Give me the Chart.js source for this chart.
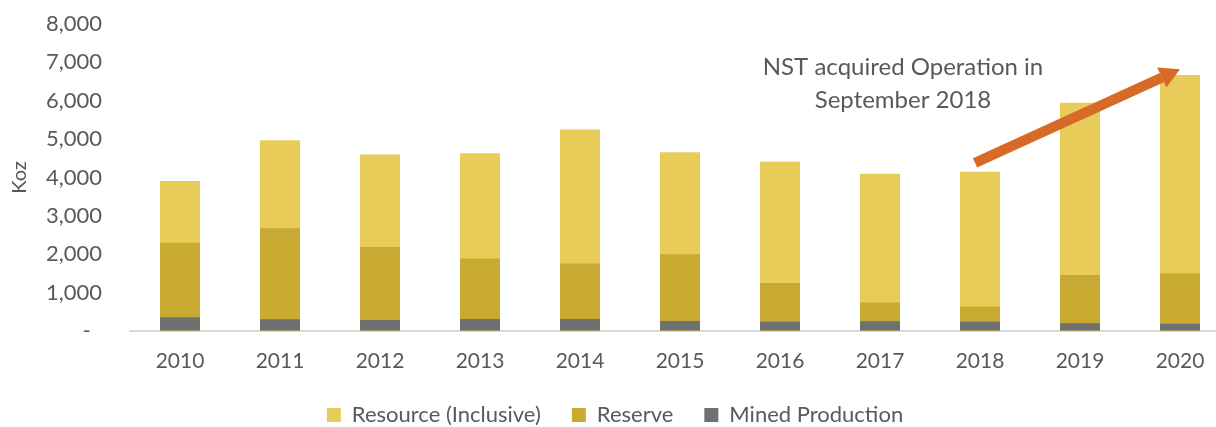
<!DOCTYPE html>
<html>
<head>
<meta charset="utf-8">
<script src="https://cdn.jsdelivr.net/npm/chart.js@4.4.1/dist/chart.umd.min.js"></script>
<style>
  html, body { margin: 0; padding: 0; background: #fff; overflow: hidden; }
  #wrap { width: 1230px; height: 427px; position: relative; }
</style>
</head>
<body>
<div id="wrap"><canvas id="chart"></canvas></div>
<script>
const years = ["2010", "2011", "2012", "2013", "2014", "2015", "2016", "2017", "2018", "2019", "2020"];
const resource = [3910, 4970, 4600, 4630, 5250, 4660, 4410, 4100, 4150, 5950, 6670];
const reserve = [2300, 2680, 2190, 1890, 1760, 2000, 1250, 740, 640, 1460, 1500];
const mined = [360, 305, 286, 312, 312, 260, 243, 255, 240, 200, 190];

// annotation, in data units (category index, Koz)
const noteLines = ["NST acquired Operation in", "September 2018"];
const noteAt = [7.23, 6450];
const arrowFrom = [7.95, 4380];
const arrowTo = [10, 6820];

const textColor = "#595959";
const fontFamily = "Lato, 'Open Sans', sans-serif";

const annotation = {
  id: "annotation",
  afterDatasetsDraw(chart) {
    const { ctx, scales: { x, y } } = chart;
    const x1 = x.getPixelForValue(arrowFrom[0]);
    const y1 = y.getPixelForValue(arrowFrom[1]);
    const x2 = x.getPixelForValue(arrowTo[0]);
    const y2 = y.getPixelForValue(arrowTo[1]);
    const ang = Math.atan2(y2 - y1, x2 - x1);
    const headLen = 20;
    const headHalf = 11;
    const bx = x2 - headLen * Math.cos(ang);
    const by = y2 - headLen * Math.sin(ang);

    ctx.save();
    ctx.strokeStyle = "#D86A27";
    ctx.fillStyle = "#D86A27";
    ctx.lineWidth = 10;
    ctx.beginPath();
    ctx.moveTo(x1, y1);
    ctx.lineTo(bx, by);
    ctx.stroke();
    ctx.beginPath();
    ctx.moveTo(x2, y2);
    ctx.lineTo(bx + headHalf * Math.sin(ang), by - headHalf * Math.cos(ang));
    ctx.lineTo(bx - headHalf * Math.sin(ang), by + headHalf * Math.cos(ang));
    ctx.closePath();
    ctx.fill();

    ctx.fillStyle = textColor;
    ctx.font = "24px " + fontFamily;
    ctx.textAlign = "center";
    ctx.textBaseline = "middle";
    const cx = x.getPixelForValue(noteAt[0]);
    const cy = y.getPixelForValue(noteAt[1]);
    ctx.fillText(noteLines[0], cx, cy - 16.5);
    ctx.fillText(noteLines[1], cx, cy + 16.5);
    ctx.restore();
  }
};

// keep the bottom legend compact while its items stay widely spaced
const legendHeight = {
  id: "legendHeight",
  beforeUpdate(chart) {
    const lg = chart.legend;
    if (lg && !lg._fixed) {
      const fit = lg.fit.bind(lg);
      lg.fit = function () { fit(); this.height = 54; };
      lg._fixed = true;
    }
  }
};

new Chart(document.getElementById("chart"), {
  type: "bar",
  data: {
    labels: years,
    datasets: [
      { label: "Resource (Inclusive)", data: resource, backgroundColor: "#E8CC5A", order: 3 },
      { label: "Reserve", data: reserve, backgroundColor: "#C8AA33", order: 2 },
      { label: "Mined Production", data: mined, backgroundColor: "#6F7070", order: 1 },
    ],
  },
  options: {
    responsive: true,
    maintainAspectRatio: false,
    animation: false,
    events: [],
    layout: { padding: { top: 24, left: 0, right: 0, bottom: 0 } },
    datasets: {
      bar: { grouped: false, categoryPercentage: 1, barPercentage: 0.4 },
    },
    plugins: {
      tooltip: { enabled: false },
      legend: {
        position: "bottom",
        labels: {
          color: textColor,
          font: { family: fontFamily, size: 22 },
          boxWidth: 14,
          boxHeight: 14,
          padding: 31,
          sort: (a, b) => a.datasetIndex - b.datasetIndex,
        },
      },
    },
    scales: {
      x: {
        afterFit(scale) { scale.height = 42; },
        grid: { display: false },
        border: { color: "#D9D9D9", width: 2 },
        ticks: { color: textColor, font: { family: fontFamily, size: 21 }, padding: 10 },
      },
      y: {
        min: 0,
        max: 8000,
        afterFit(scale) { scale.width = 130; },
        grid: { display: true, drawOnChartArea: false, drawTicks: true, tickLength: 24, tickColor: "rgba(0,0,0,0)" },
        border: { display: false },
        ticks: {
          stepSize: 1000,
          padding: 4,
          color: textColor,
          font: { family: fontFamily, size: 22 },
          callback: (v) => (v === 0 ? "-  " : v.toLocaleString("en-US")),
        },
        title: {
          display: true,
          text: "Koz",
          color: textColor,
          font: { family: fontFamily, size: 20 },
          padding: { top: 8, bottom: 0 },
        },
      },
    },
  },
  plugins: [annotation, legendHeight],
});
</script>
</body>
</html>
